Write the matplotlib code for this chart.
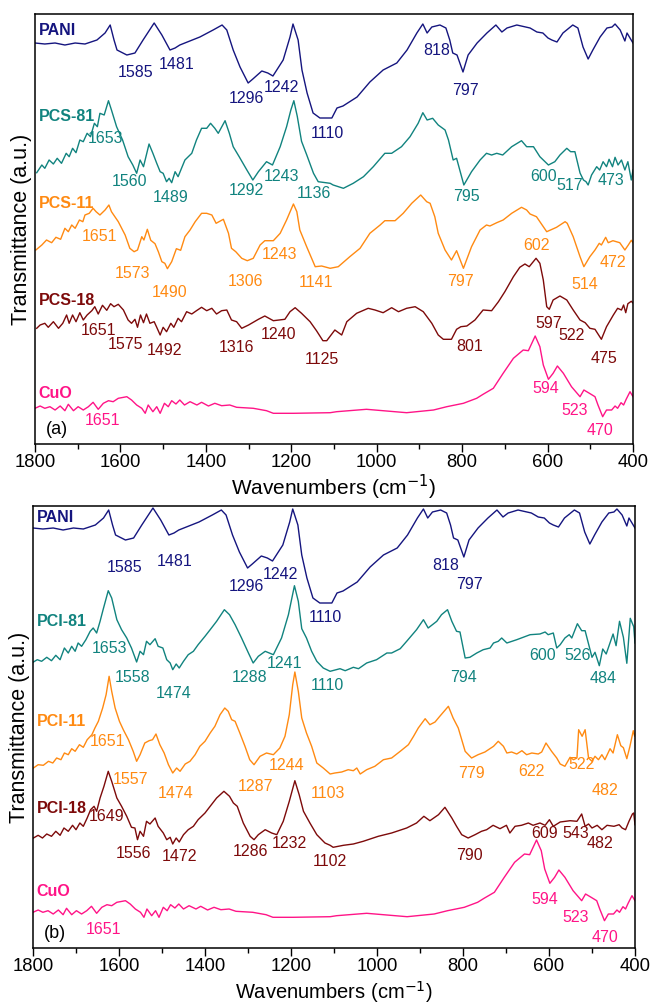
import matplotlib
matplotlib.use("Agg")
import matplotlib.pyplot as plt
from matplotlib.ticker import MultipleLocator

plt.rcParams['font.family'] = ['Liberation Sans', 'DejaVu Sans']

# ---------------- data (wavenumber, transmittance a.u.) ----------------
PANI_WN = [1800,1777,1753,1730,1706,1683,1655,1636,1624,1615,1608,1585,1566,1547,1521,1503,1484,1472,1461,
           1414,1383,1362,1351,1336,1320,1301,1290,1269,1255,1243,1219,1203,1196,1184,1175,1163,1149,1133,
           1105,1093,1079,1046,1016,985,953,929,906,892,882,871,852,838,829,822,812,798,786,765,742,721,707,
           695,672,641,625,611,599,590,578,564,541,529,517,505,494,477,461,449,442,430,419,414,407,400]
PANI_T = [401,400,401,399,401,400,404,411,419,404,394,389,391,404,421,409,394,396,399,
          407,414,419,414,394,377,361,365,373,371,368,384,407,420,404,374,351,331,326,
          326,336,338,347,362,374,381,394,411,420,411,417,419,416,404,391,389,372,389,401,411,419,412,
          416,419,416,412,411,406,404,402,411,419,416,397,385,394,407,416,417,420,414,403,411,406,401]

CUO_WN = [1800,1788,1777,1765,1753,1741,1730,1722,1710,1699,1687,1675,1664,1652,1640,1628,1617,1605,1585,
          1574,1562,1550,1542,1535,1524,1515,1507,1497,1488,1480,1470,1461,1450,1437,1421,1410,1394,1379,
          1363,1344,1328,1289,1258,1242,1195,1109,1094,1024,930,867,836,797,766,751,727,704,680,657,645,
          629,618,610,598,587,577,563,544,524,515,502,489,482,471,462,450,442,436,428,422,416,407,400]
CUO_T = [35.7,38,35.7,37.3,34,38,33.3,39.7,33.3,37.3,34,37.3,41.7,34.7,40.7,43.3,42.3,45.7,47.3,
         44,39,35.7,30.7,39,32.3,37.3,30.7,40.7,37.3,43.3,40,44,39,42.3,39,41.7,38,40.7,
         38.3,39,36.7,35.7,33.3,30.7,30.7,31.3,32.3,34.7,31.3,34,37.3,40.7,45.7,49.7,55.7,70.7,85.7,94,93.3,
         108,97.3,79,64.7,70.7,78,70.7,57.3,47.3,54,50.7,47.3,39,27.3,34,34,38,35.7,41.3,39,44.7,52.3,47.3]

PCS81_WN = [1796,1784,1777,1767,1757,1748,1738,1727,1720,1712,1704,1695,1687,1678,1670,1661,1654,1648,1638,
            1628,1621,1609,1595,1582,1571,1562,1554,1546,1533,1524,1515,1507,1500,1492,1486,1480,1472,1465,
            1457,1449,1433,1422,1410,1398,1389,1379,1371,1355,1345,1336,1322,1304,1290,1277,1258,1244,1226,
            1211,1201,1194,1186,1176,1164,1148,1137,1109,1102,1078,1055,1031,1008,981,965,942,922,903,892,
            882,869,856,840,832,821,813,796,778,758,743,731,719,705,684,661,649,633,618,598,583,571,555,546,
            536,524,516,510,505,497,485,478,470,462,456,448,442,435,427,419,412,404,400]
PCS81_T = [271.3,279,275.7,284,280,285.7,280.7,290.7,287.3,295.7,291.3,304,302.3,310.7,307.3,320.7,317.3,330.7,329,
           343.3,334,317.3,304,287.3,279,270.7,284,277.3,300,290.7,280.7,272.3,270.7,262.3,265.7,261.3,272.3,267.3,
           275.7,284,290.7,304,315.7,315.7,320.7,315.7,310.7,323.3,310.7,297.3,287.3,274,264,272.3,282.3,279,297.3,
           317.3,334,343.3,327.7,302.7,289.3,270.7,262.3,260.7,259,255.7,260.7,267.3,277.3,290.7,290.7,297.3,307.3,320.7,331.3,
           324,325.7,319,314,304,284,285.7,259,272.3,284,290.7,289,290.7,289,297.3,303.3,297.3,297.3,287.3,279,282.3,289,295.7,292.3,
           292.3,271,264,262.3,259,269,277.3,274,282.3,277.3,284.7,277.3,286.7,279,284,274,282.3,264,274]

PCS11_WN = [1798,1784,1773,1761,1751,1740,1730,1722,1714,1706,1696,1688,1683,1673,1664,1657,1648,1636,1627,
            1621,1605,1589,1578,1568,1560,1550,1545,1537,1529,1519,1511,1503,1496,1490,1480,1469,1459,1449,
            1437,1425,1410,1398,1386,1376,1359,1347,1340,1330,1316,1303,1289,1273,1262,1242,1226,1211,1195,
            1187,1180,1164,1144,1129,1109,1090,1063,1039,1016,992,981,957,938,918,897,883,875,864,856,840,
            825,813,797,778,758,743,735,719,704,684,661,649,641,626,602,579,559,554,540,524,515,501,489,479,
            474,464,458,447,431,419,411,404,400]
PCS11_T = [194,199,204,201.3,206.7,204.7,215.7,212.3,219,215.7,224,222.3,229,230.7,235.7,232.3,229,234,239,
           232.3,222.3,209,195.7,192.3,194,207.3,204,214.7,203.7,200.3,192,182.3,180.7,175.3,182.3,195.3,193.7,207.3,
           214,222.3,230.7,230.7,229,220.7,224.7,210.7,195.7,192.3,185.7,183.3,185.7,199,203.3,203.3,210.7,224,240,
           232.3,214,197.3,177.3,178,175.7,177.3,187.3,195.7,210.7,219,223.3,223.3,230.7,240.7,249,242.3,240.7,227.3,210.7,194,
           184,193.3,175.7,197.3,214,219,218,221.3,224,230.7,236.7,234,230,227.3,212.3,216.7,222.3,220.7,207.3,187.3,177.3,187.3,194,200.7,
           199,206.7,201.3,203.3,201.3,194,199,203.7,201.3]

PCS18_WN = [1796,1788,1777,1769,1757,1745,1735,1726,1720,1712,1704,1695,1687,1678,1667,1660,1652,1642,1632,
            1623,1615,1605,1593,1582,1574,1566,1560,1553,1546,1539,1531,1521,1515,1507,1500,1492,1482,1475,
            1465,1457,1445,1433,1422,1410,1398,1386,1375,1363,1351,1340,1328,1316,1300,1277,1262,1242,1215,
            1203,1191,1176,1156,1141,1126,1117,1098,1082,1070,1047,1020,1004,985,965,949,930,910,891,871,856,
            844,825,813,803,789,770,751,731,715,700,680,665,653,643,627,618,610,602,596,587,571,555,540,524,
            512,501,489,474,462,446,436,427,422,417,412,404,400]
PCS18_T = [115.7,119,120.7,116.7,122.3,115.7,120.7,129,120.7,129,122.3,131.3,124,129,133.3,137.3,130,138.7,133.7,
           140.3,137.3,139.7,134,124,120.7,124.7,116.7,129,121.3,130,120.7,122.3,116.7,109,116.7,112.3,120.7,116.7,
           125.7,122.3,132.3,130,133.3,136.7,133.3,135.7,130,133.3,134,124,122.3,115.7,119,124.7,128,123.3,124.7,
           132.3,136.3,130.7,122.3,113.3,103.3,103.3,114,109,122.3,130.7,135.7,134,131.3,136.3,132.3,135.7,137.3,132.3,120.7,109,
           104.7,104.7,114.7,117.3,118,124,134,133.3,142.3,152.3,167.3,176.7,180,177.3,185.7,180.7,164,137.3,134.7,144,148,144,134,124,
           121.3,115.7,114.7,104.7,117.3,129,135.7,134,139,131.3,140.3,142.7,141]

PCI81_WN = [1799,1790,1780,1768,1757,1747,1737,1727,1718,1710,1702,1695,1687,1677,1667,1660,1652,1644,1637,
            1625,1617,1605,1594,1582,1571,1559,1551,1543,1536,1528,1516,1509,1498,1489,1481,1475,1467,1460,
            1450,1439,1427,1416,1400,1388,1373,1355,1343,1330,1315,1299,1288,1276,1260,1241,1222,1206,1192,
            1183,1175,1164,1152,1140,1125,1109,1086,1074,1055,1043,1024,1001,977,966,946,931,908,892,881,861,
            850,836,826,815,807,795,784,768,753,737,729,718,710,698,675,644,621,609,602,590,582,574,563,553,
            547,534,524,516,508,500,493,483,475,467,459,451,444,436,427,419,411,403,400]
PCI81_T = [287,289.3,287.7,291.7,288.3,293.7,289.3,301,296,302.7,297.7,306,302.7,309.3,317.7,321,316,327.7,339.3,
           358.3,351,329.3,319.3,311,301,287,297.7,294.3,307.7,304.3,310.3,302.7,301,289.3,286,279.3,285,281,
           287.7,294.3,297.7,304.3,312.7,319.3,327.7,339.3,334.3,324.3,311,296,286,292.7,297.7,294.3,311,334.3,363.3,
           347.7,320.3,311,297.7,287.7,281,277.7,280.3,278.3,281.7,280.3,286,289.3,296,296,300.3,307.7,319.3,329.3,321,327.7,
           334.3,339.3,327.7,317.7,317,291,291.7,296,299.3,301,306,307.7,311,306,309.3,314.3,315,317,314.3,316,301,304.3,311,314.3,
           311,325.3,318.3,318.3,305,291.7,296.7,283.3,300,295,305,315,303.3,327.7,311.7,285.7,330.7,322.3,306]

PCI11_WN = [1799,1788,1776,1764,1754,1745,1735,1727,1718,1710,1702,1692,1683,1674,1663,1656,1648,1638,1630,
            1623,1617,1609,1599,1590,1578,1567,1559,1551,1540,1530,1522,1514,1505,1495,1485,1475,1466,1458,
            1446,1435,1423,1412,1400,1388,1377,1365,1354,1346,1338,1330,1319,1307,1296,1286,1272,1257,1241,
            1226,1214,1204,1196,1191,1183,1175,1164,1152,1140,1125,1109,1098,1082,1067,1055,1047,1039,1024,
            1005,985,966,946,927,915,904,888,877,865,854,844,834,823,811,795,780,765,749,729,718,706,698,687,
            675,663,652,640,625,617,607,594,582,574,563,551,543,535,531,523,516,508,500,493,485,477,470,458,
            451,441,433,427,419,412,404,401]
PCI11_T = [181,184.3,183.7,187.7,186,191,189.3,196,194.3,200.3,197.7,204.3,201.7,209.3,214.3,221,227.7,241,254.3,
           272.7,257.7,241,227.7,219.3,209.3,197.7,187.7,194.3,206,208.3,209.3,215,204.3,196,184.3,176,181,177.7,
           185,187.7,194.3,202.7,207.7,216,222.7,234.3,241,237.7,229.3,227.7,216,202.7,189.3,184.3,192.7,196,194.3,
           201,212.7,234.3,264.3,277,257.7,231,216,202.7,186,181,175,176,177,179.3,178.3,181,175,179.3,
           182.7,189.3,191,197.7,204.3,212.7,221,230.3,224.3,227,232.7,237.7,242.7,231,221,197.7,191,194.3,197,202.7,207.7,202.7,196,197,
           195,198.3,194.3,196,195,197,206,197.7,191,185,182.7,191.7,189.3,191,219.3,212.7,219.3,191,187.7,192.7,189.3,194.3,189.3,200.3,
           196,214.3,203.3,201.3,190.3,202.3,218.3,213]

PCI18_WN = [1799,1788,1778,1768,1757,1747,1737,1728,1718,1708,1700,1691,1683,1674,1666,1658,1652,1644,1635,
            1625,1617,1605,1594,1582,1571,1563,1557,1551,1543,1536,1528,1516,1509,1497,1489,1481,1475,1467,
            1460,1450,1439,1427,1416,1400,1388,1373,1356,1343,1334,1325,1311,1295,1286,1276,1260,1245,1233,
            1218,1204,1191,1181,1171,1156,1140,1121,1109,1102,1078,1055,1032,997,966,931,908,891,877,857,842,
            826,815,803,788,772,757,745,730,714,699,691,679,664,648,637,621,609,599,590,574,551,535,524,516,
            508,500,488,477,465,449,437,430,422,414,406,403,400]
PCI18_T = [111,113.7,111,115,112.7,117.7,113.7,121,117.7,123.7,119.3,126,122.7,131,139.3,142.7,137.7,151,162.7,
           177.7,167.7,151,142.7,132.7,121.7,121,109.3,117.7,112.7,127.7,125,131,122.7,116,109.3,111.7,105,111,
           107,114.3,119.3,122.7,129.3,136,142.7,151,157.7,152.7,146,142.7,126,112.7,109.3,114.3,119.3,116,114.3,
           127.7,147.7,168.3,154.3,137.7,126,114.3,106,103.7,101.7,103.7,105,107.7,112.7,116,121,126,132.7,128.3,134.3,141.7,
           131,122.7,114.3,111,114.3,117.7,119.3,123.7,120.3,123.7,116,122.7,123.7,126,123.7,126,123.7,129.3,122.7,127,128.3,127.7,135,122.7,
           125,121,123.7,119.3,123.7,122.7,124.3,121,119.3,127.7,135,136,124.3]

# peak labels: (text, wavenumber, level)
LBL_PANI = [("1585",1564,372),("1481",1468,380),("1296",1304,345.7),("1242",1222,356.7),
            ("1110",1116,310.7),("818",860,393.3),("797",793,354)]
LBL_PCS81 = [("1653",1636,305.7),("1560",1579,262.3),("1489",1482,246.7),("1292",1304,254),
             ("1243",1222,268),("1136",1146,250.7),("795",789,248),("600",609,268),("517",548,259),("473",452,264)]
LBL_PCS11 = [("1651",1648,208),("1573",1572,170.7),("1490",1486,151.3),("1306",1307,162.3),
             ("1243",1228,189.7),("1141",1141,161.7),("797",803,162.3),("602",627,199),("514",514,159.7),("472",446,181.3)]
LBL_PCS18 = [("1651",1652,113.3),("1575",1589,100),("1492",1496,94),("1316",1328,96.7),("1240",1230,110),
             ("1125",1129,84.7),("801",783,98),("597",598,120.7),("522",544,109),("475",469,85.7)]
LBL_CUO_A = [("1651",1641,24),("594",604,55.7),("523",537,34),("470",477,13.3)]

LBL_PANI_B = [("1585",1588,381),("1481",1470,387),("1296",1303,361.7),("1242",1225,373.7),
              ("1110",1121,330.3),("818",840,382.7),("797",786,363.7)]
LBL_PCI81 = [("1653",1621,299.3),("1558",1569,270.3),("1474",1472,254.3),("1288",1297,271),
             ("1241",1216,284.3),("1110",1116,262.7),("794",798,271),("600",616,292.7),("526",533,292.7),("484",474,269.3)]
LBL_PCI11 = [("1651",1627,206),("1557",1573,168.3),("1474",1468,155),("1287",1282,161.7),
             ("1244",1210,182.7),("1103",1113,155),("779",780,175),("622",640,177),("522",524,183.7),("482",469,157.7)]
LBL_PCI18 = [("1649",1630,131.7),("1556",1567,95),("1472",1460,91.7),("1286",1294,96),("1232",1204,105),
             ("1102",1110,86),("790",784,92.7),("609",611,114.3),("543",537,114.3),("482",481,104.3)]
LBL_CUO_B = [("1651",1637,18.3),("594",609,48.3),("523",539,31),("470",469,11)]

C_PANI = '#15157f'
C_81 = '#11837f'
C_11 = '#ff8a12'
C_18 = '#7d0a0a'
C_CUO = '#ff1487'

XLABEL = 'Wavenumbers (cm$^{-1}$)'
YLABEL = 'Transmittance (a.u.)'

fig = plt.figure(figsize=(6.51, 10.05), dpi=100)
ax_a = fig.add_axes([35/651, 1-444/1005, 598/651, 430/1005])
ax_b = fig.add_axes([33/651, 1-948/1005, 602/651, 442/1005])

def style(ax, ytop, letter):
    ax.set_xlim(1800, 400)
    ax.set_ylim(0, ytop)
    ax.xaxis.set_major_locator(MultipleLocator(200))
    ax.xaxis.set_minor_locator(MultipleLocator(100))
    ax.tick_params(axis='x', which='major', direction='out', length=6, width=1, labelsize=13.3, pad=1.5)
    ax.tick_params(axis='x', which='minor', direction='out', length=3.5, width=1)
    ax.tick_params(axis='y', left=False, labelleft=False)
    for s in ax.spines.values():
        s.set_linewidth(1.1)
    ax.set_ylabel(YLABEL, fontsize=15.5, labelpad=2)
    ax.text(1748, 15, letter, fontsize=13, ha='center', va='center', color='black')

def curve(ax, wn, t, off, color):
    ax.plot(wn, [v + off for v in t], color=color, lw=1.0, solid_joinstyle='round')

def labels(ax, lst, color):
    for txt, x, y in lst:
        ax.text(x, y, txt, color=color, fontsize=11.5, ha='center', va='center')

def name(ax, txt, y, color):
    ax.text(0.006, y, txt, transform=ax.get_yaxis_transform(), color=color, fontsize=11.5,
            fontweight='bold', ha='left', va='center')

# panel (a)
style(ax_a, 430, '(a)')
ax_a.set_xlabel(XLABEL, fontsize=15, labelpad=1)
curve(ax_a, PANI_WN, PANI_T, 0, C_PANI)
curve(ax_a, PCS81_WN, PCS81_T, 0, C_81)
curve(ax_a, PCS11_WN, PCS11_T, 0, C_11)
curve(ax_a, PCS18_WN, PCS18_T, 0, C_18)
curve(ax_a, CUO_WN, CUO_T, 0, C_CUO)
labels(ax_a, LBL_PANI, C_PANI)
labels(ax_a, LBL_PCS81, C_81)
labels(ax_a, LBL_PCS11, C_11)
labels(ax_a, LBL_PCS18, C_18)
labels(ax_a, LBL_CUO_A, C_CUO)
name(ax_a, 'PANI', 414, C_PANI)
name(ax_a, 'PCS-81', 327.3, C_81)
name(ax_a, 'PCS-11', 240.7, C_11)
name(ax_a, 'PCS-18', 144, C_18)
name(ax_a, 'CuO', 50.7, C_CUO)

# panel (b)
style(ax_b, 442, '(b)')
fig.text((33 + 301) / 651, 0.5 / 1005, XLABEL, fontsize=14.5, ha='center', va='bottom')
curve(ax_b, PANI_WN, PANI_T, 19, C_PANI)
curve(ax_b, PCI81_WN, PCI81_T, -1, C_81)
curve(ax_b, PCI11_WN, PCI11_T, -1, C_11)
curve(ax_b, PCI18_WN, PCI18_T, -1, C_18)
curve(ax_b, CUO_WN, CUO_T, 0, C_CUO)
labels(ax_b, LBL_PANI_B, C_PANI)
labels(ax_b, LBL_PCI81, C_81)
labels(ax_b, LBL_PCI11, C_11)
labels(ax_b, LBL_PCI18, C_18)
labels(ax_b, LBL_CUO_B, C_CUO)
name(ax_b, 'PANI', 430.3, C_PANI)
name(ax_b, 'PCI-81', 327, C_81)
name(ax_b, 'PCI-11', 226, C_11)
name(ax_b, 'PCI-18', 139.3, C_18)
name(ax_b, 'CuO', 57, C_CUO)

fig.savefig('out.png', dpi=100)
